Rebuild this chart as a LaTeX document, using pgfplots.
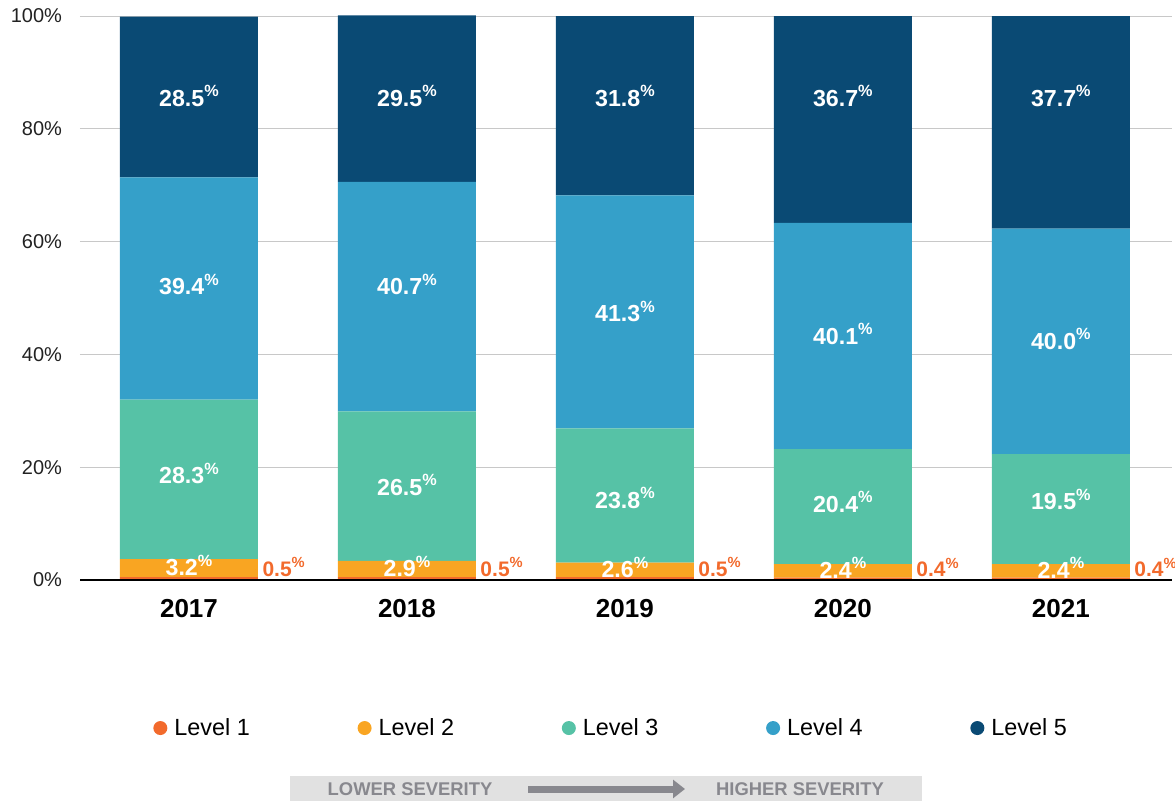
\documentclass[border=0pt]{standalone}
\usepackage{fontspec}
\setmainfont{Liberation Sans}
\usepackage{graphicx}
\usepackage{pgfplots}
\usepackage{pgfplotstable}
\pgfplotsset{compat=1.18}
\usetikzlibrary{arrows.meta}

\definecolor{lone}{HTML}{F26A2C}
\definecolor{ltwo}{HTML}{F9A522}
\definecolor{lthree}{HTML}{56C2A6}
\definecolor{lfour}{HTML}{35A0C9}
\definecolor{lfive}{HTML}{0A4A74}
\definecolor{gridc}{HTML}{C8C8C8}
\definecolor{sevbg}{HTML}{E1E1E1}
\definecolor{sevtx}{HTML}{88888E}
\definecolor{tickc}{HTML}{222222}

\newcommand{\pctsup}{\raisebox{0.4em}{\scalebox{0.7}{\%}}}

\pgfplotstableread{
x L1 L2 L3 L4 L5 y1 y2 y3 y4 y5
0 0.5 3.2 28.3 39.4 28.5 1.9 2.2 18.6 52.1 85.5
1 0.5 2.9 26.5 40.7 29.5 1.9 2.1 16.5 52.1 85.5
2 0.5 2.6 23.8 41.3 31.8 1.9 1.9 14.2 47.3 85.5
3 0.4 2.4 20.4 40.1 36.7 1.8 1.8 13.5 43.3 85.5
4 0.4 2.4 19.5 40.0 37.7 1.8 1.8 14.0 42.4 85.5
}\datatable

\pgfplotsset{
  common/.style={scale only axis, width=546pt, height=282pt,
    xmin=-0.5, xmax=4.51, ymin=0, ymax=100, clip=false},
  lab/.style={only marks, mark=*, mark size=0pt, draw=none, fill=none,
    point meta=explicit symbolic},
  circ/.style={legend image code/.code={\path[fill=#1, draw=none] (3.5pt,0pt) circle (3.5pt); \path[draw=none, fill=none] (0pt,-3.5pt) rectangle (10.5pt,3.5pt);}},
}

\begin{document}
\begin{tikzpicture}
\useasboundingbox (-40pt,-110pt) rectangle (547.5pt,290pt);
\begin{axis}[common,
  ybar stacked, bar width=69pt,
  xtick={0,1,2,3,4}, xticklabels={2017,2018,2019,2020,2021},
  ytick={0,20,40,60,80,100}, yticklabels={0\%,20\%,40\%,60\%,80\%,100\%},
  ymajorgrids, grid style={color=gridc, line width=0.5pt},
  axis line style={draw=none}, tick style={draw=none}, major tick length=0pt,
  xticklabel style={font=\bfseries\fontsize{13}{15}\selectfont, text=black, yshift=-6pt},
  yticklabel style={font=\fontsize{10}{12}\selectfont, text=tickc, xshift=-5.5pt},
]
\addplot[fill=lone, draw=none] table[x=x, y=L1] {\datatable};
\addplot[fill=ltwo, draw=none] table[x=x, y=L2] {\datatable};
\addplot[fill=lthree, draw=none] table[x=x, y=L3] {\datatable};
\addplot[fill=lfour, draw=none] table[x=x, y=L4] {\datatable};
\addplot[fill=lfive, draw=none] table[x=x, y=L5] {\datatable};
\end{axis}
\begin{axis}[common, hide axis,
  legend columns=5,
  legend style={at={(0.0668,-0.2625)}, anchor=west, draw=none, fill=none,
    font=\fontsize{11.7}{14}\selectfont, text=black,
    inner xsep=0pt, inner ysep=0pt, cells={anchor=west},
    nodes={inner sep=0pt},
    /tikz/every even column/.append style={column sep=53.9pt}},
]
\addlegendimage{circ=lone}\addlegendentry{Level 1}
\addlegendimage{circ=ltwo}\addlegendentry{Level 2}
\addlegendimage{circ=lthree}\addlegendentry{Level 3}
\addlegendimage{circ=lfour}\addlegendentry{Level 4}
\addlegendimage{circ=lfive}\addlegendentry{Level 5}
\draw[black, line width=1pt] (rel axis cs:0,0) -- (rel axis cs:1,0);
\pgfplotsset{white lab/.style={lab, forget plot, nodes near coords={\pgfplotspointmeta\pctsup},
  nodes near coords style={anchor=base, yshift=-4.15pt, text=white,
    font=\bfseries\fontsize{11.6}{13}\selectfont}}}
\addplot[white lab] table[x=x, y=y5, meta=L5] {\datatable};
\addplot[white lab] table[x=x, y=y4, meta=L4] {\datatable};
\addplot[white lab] table[x=x, y=y3, meta=L3] {\datatable};
\addplot[white lab] table[x=x, y=y2, meta=L2] {\datatable};
\addplot[lab, forget plot, nodes near coords={\pgfplotspointmeta\pctsup},
  nodes near coords style={anchor=base west, yshift=-3.5pt, text=lone,
    font=\bfseries\fontsize{10.5}{12}\selectfont}]
  table[x expr=\thisrow{x}+0.305, y=y1, meta=L1] {\datatable};
\end{axis}
\fill[sevbg] (105pt,-98pt) rectangle (421pt,-112pt);
\node[text=sevtx, font=\bfseries\fontsize{9.2}{11}\selectfont] at (165pt,-104.5pt) {LOWER SEVERITY};
\node[text=sevtx, font=\bfseries\fontsize{9.2}{11}\selectfont] at (360pt,-104.5pt) {HIGHER SEVERITY};
\draw[sevtx, line width=3.5pt, -{Triangle[length=6pt,width=9pt]}] (224pt,-104.5pt) -- (302.5pt,-104.5pt);
\end{tikzpicture}
\end{document}
